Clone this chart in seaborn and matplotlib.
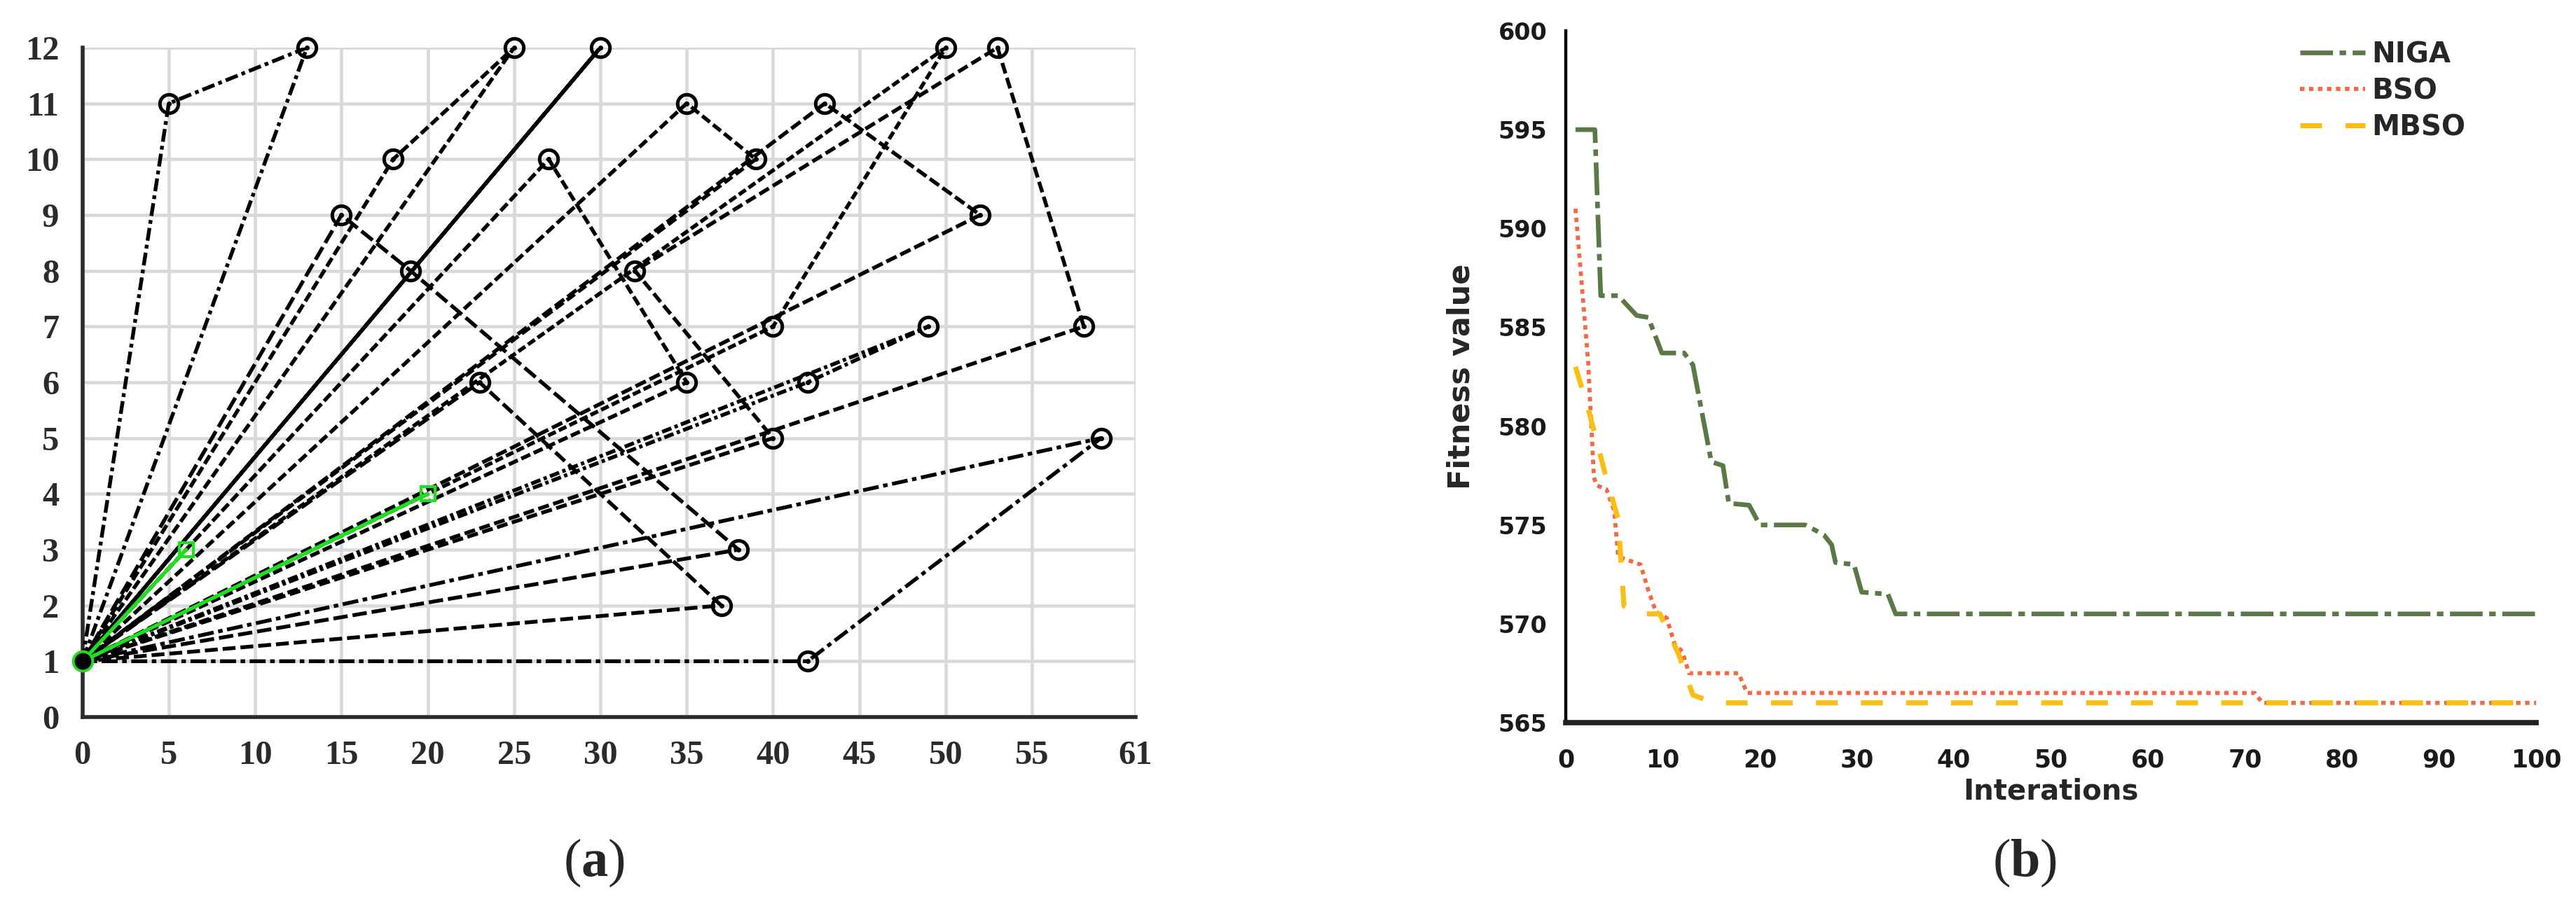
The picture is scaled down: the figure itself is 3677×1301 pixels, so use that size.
import matplotlib
matplotlib.use("Agg")
import matplotlib.pyplot as plt
import seaborn as sns

# ---------------- Panel (a): vehicle routes (depot at (0, 1)) ----------------
depot_x, depot_y = 0, 1
route1_x, route1_y = [5, 13], [11, 12]
route2_x, route2_y = [18, 25], [10, 12]
route3_x, route3_y = [30], [12]
route4_x, route4_y = [15, 19, 38], [9, 8, 3]
route5_x, route5_y = [23, 37], [6, 2]
route6_x, route6_y = [27, 35], [10, 6]
route7_x, route7_y = [35, 39], [11, 10]
route8_x, route8_y = [40, 50], [7, 12]
route9_x, route9_y = [40, 32, 53, 58], [5, 8, 12, 7]
route10_x, route10_y = [42, 49], [6, 7]
route11_x, route11_y = [59, 42], [5, 1]
route12_x, route12_y = [43, 52], [11, 9]
green1_x, green1_y = [6], [3]
green2_x, green2_y = [20], [4]

routes = [
    (route1_x, route1_y, (0, (3.4, 1.1, 1.0, 1.1))),
    (route2_x, route2_y, (0, (2.6, 1.0))),
    (route3_x, route3_y, "-"),
    (route4_x, route4_y, (0, (3.8, 1.3))),
    (route5_x, route5_y, (0, (3.4, 1.3))),
    (route6_x, route6_y, (0, (2.6, 1.0))),
    (route7_x, route7_y, (0, (2.6, 1.1))),
    (route8_x, route8_y, (0, (2.2, 0.9))),
    (route9_x, route9_y, (0, (2.9, 1.2))),
    (route10_x, route10_y, (0, (2.6, 0.9, 0.9, 0.9))),
    (route11_x, route11_y, (0, (4.2, 1.2, 1.2, 1.2))),
    (route12_x, route12_y, (0, (3.0, 1.1))),
]
green_routes = [(green1_x, green1_y), (green2_x, green2_y)]

xticks_a = [0, 5, 10, 15, 20, 25, 30, 35, 40, 45, 50, 55, 61]
yticks_a = list(range(0, 13))

# ---------------- Panel (b): convergence curves ----------------
niga_x = [1, 3, 3.6, 5.4, 7.3, 8.5, 9.9, 12.2, 13.1, 15, 16.2, 16.8, 18.9, 20, 24.7,
          26.6, 27.4, 27.8, 29.7, 30.5, 33.2, 34, 100]
niga_y = [595, 595, 586.6, 586.6, 585.6, 585.5, 583.7, 583.7, 583.1, 578.2, 578.0, 576.1,
          576, 575, 575, 574.5, 574, 573.1, 573, 571.6, 571.5, 570.5, 570.5]
bso_x = [1, 2.3, 2.9, 3.2, 4.2, 5, 5.4, 7.7, 8.5, 9.3, 10.4, 11.2, 12, 12.7, 17.8, 18.7,
         71, 71.8, 100]
bso_y = [591, 583.3, 577.4, 577.0, 576.8, 575.7, 573.4, 573, 571.7, 570.6, 570.3, 569.0,
         568.6, 567.5, 567.5, 566.5, 566.5, 566, 566]
mbso_x = [1, 2.3, 4, 5.4, 6, 7.6, 9.7, 11.6, 13.1, 15.3, 100]
mbso_y = [583, 580.9, 577.7, 575.3, 570.9, 570.5, 570.5, 568.5, 566.4, 566, 566]
series_names = ["NIGA", "BSO", "MBSO"]

# ---------------- Figure ----------------
sns.set_style("white")
plt.rcParams["font.family"] = ["DejaVu Sans"]
plt.rcParams["mathtext.fontset"] = "custom"
plt.rcParams["mathtext.rm"] = "Liberation Serif"
plt.rcParams["mathtext.bf"] = "Liberation Serif:bold"

W, H = 3677, 1301
fig = plt.figure(figsize=(W / 100, H / 100), dpi=100)
fig.patch.set_facecolor("white")

GREEN = "#1ee01e"
ax = fig.add_axes([117.7 / W, 1 - 1024 / H, (1621 - 117.7) / W, (1024 - 68) / H])
ax.set_facecolor("white")

for rx, ry, ls in routes:
    xs = [depot_x] + rx + [depot_x]
    ys = [depot_y] + ry + [depot_y]
    sns.lineplot(x=xs, y=ys, sort=False, estimator=None, ax=ax, color="black",
                 lw=3.9, linestyle=ls, legend=False, zorder=3)
    ax.plot(rx, ry, "o", mfc="none", mec="black", ms=19, mew=3.6, clip_on=False, zorder=5)
    ax.plot(rx, ry, "o", color="black", ms=4, clip_on=False, zorder=5)

for gxr, gyr in green_routes:
    gx = [depot_x] + gxr
    gy = [depot_y] + gyr
    sns.lineplot(x=gx, y=gy, sort=False, estimator=None, ax=ax, color=GREEN, lw=3.8,
                 legend=False, zorder=4)
    ax.plot(gxr, gyr, "s", mfc="none", mec=GREEN, ms=15, mew=3, zorder=6)
ax.plot([depot_x], [depot_y], "o", mfc="black", mec=GREEN, ms=20, mew=2.8,
        clip_on=False, zorder=7)

ax.set_xlim(0, 61)
ax.set_ylim(0, 12)
ax.set_xticks(xticks_a)
ax.set_yticks(yticks_a)
ax.set_xlabel("")
ax.set_ylabel("")
ax.grid(True, color="#d9d9d9", lw=3.3)
ax.set_axisbelow(True)
for s in ["top", "right"]:
    ax.spines[s].set_visible(False)
for s in ["left", "bottom"]:
    ax.spines[s].set_color("#2b2b2b")
    ax.spines[s].set_linewidth(4)
ax.tick_params(direction="out", length=14, width=3.5, color="#2b2b2b", pad=10,
               labelsize=35, labelcolor="#2b2b2b")
for lab in ax.get_xticklabels() + ax.get_yticklabels():
    lab.set_family("Liberation Serif")
    lab.set_weight("bold")

# ---------------- Panel (b) ----------------
ax2 = fig.add_axes([2235 / W, 1 - 1032 / H, (3620 - 2235) / W, (1032 - 44) / H])
ax2.set_facecolor("white")
sns.lineplot(x=niga_x, y=niga_y, sort=False, estimator=None, ax=ax2, color="#5b7847",
             lw=4.8, linestyle=(0, (7, 1.4, 1.4, 1.4)), label=series_names[0])
sns.lineplot(x=bso_x, y=bso_y, sort=False, estimator=None, ax=ax2, color="#f26a45",
             lw=4.2, linestyle=(0, (1.1, 1.1)), label=series_names[1])
sns.lineplot(x=mbso_x, y=mbso_y, sort=False, estimator=None, ax=ax2, color="#fbbe12",
             lw=5.2, linestyle=(0, (4.3, 4.6)), label=series_names[2])

ax2.set_xlim(0, 100)
ax2.set_ylim(565, 600)
ax2.set_xticks(range(0, 101, 10))
ax2.set_yticks(range(565, 601, 5))
for s in ["top", "right"]:
    ax2.spines[s].set_visible(False)
ax2.spines["left"].set_color("black")
ax2.spines["left"].set_linewidth(3.2)
ax2.spines["bottom"].set_color("#222222")
ax2.spines["bottom"].set_linewidth(5.5)
ax2.tick_params(axis="y", direction="out", length=11, width=3, color="black", pad=8,
                labelsize=24)
ax2.tick_params(axis="x", direction="out", length=14, width=3.2, color="#222222", pad=12,
                labelsize=25)
for lab in ax2.get_xticklabels() + ax2.get_yticklabels():
    lab.set_family("DejaVu Sans")
    lab.set_weight("bold")
    lab.set_color("#1a1a1a")

ax2.set_xlabel("Interations", fontsize=29, fontweight="bold", family="DejaVu Sans",
               va="top")
ax2.xaxis.set_label_coords(0.5, -0.079)
ax2.set_ylabel("Fitness value", fontsize=31, fontweight="bold", family="DejaVu Sans")
ax2.yaxis.set_label_coords(-0.093, 0.5)

leg = ax2.legend(loc="upper left", bbox_to_anchor=(3283 / W, 1 - 58 / H),
                 bbox_transform=fig.transFigure, frameon=False,
                 prop={"family": "DejaVu Sans", "weight": "bold", "size": 29},
                 handlelength=2.3, handletextpad=0.25, labelspacing=0.3,
                 borderpad=0, borderaxespad=0)

# ---------------- Captions ----------------
fig.text(848 / W, 1 - 1232 / H, r"$\mathrm{(}\mathbf{a}\mathrm{)}$", fontsize=55,
         ha="center", va="center")
fig.text(2890 / W, 1 - 1232 / H, r"$\mathrm{(}\mathbf{b}\mathrm{)}$", fontsize=55,
         ha="center", va="center")

fig.savefig("out.png", dpi=100, facecolor="white")
